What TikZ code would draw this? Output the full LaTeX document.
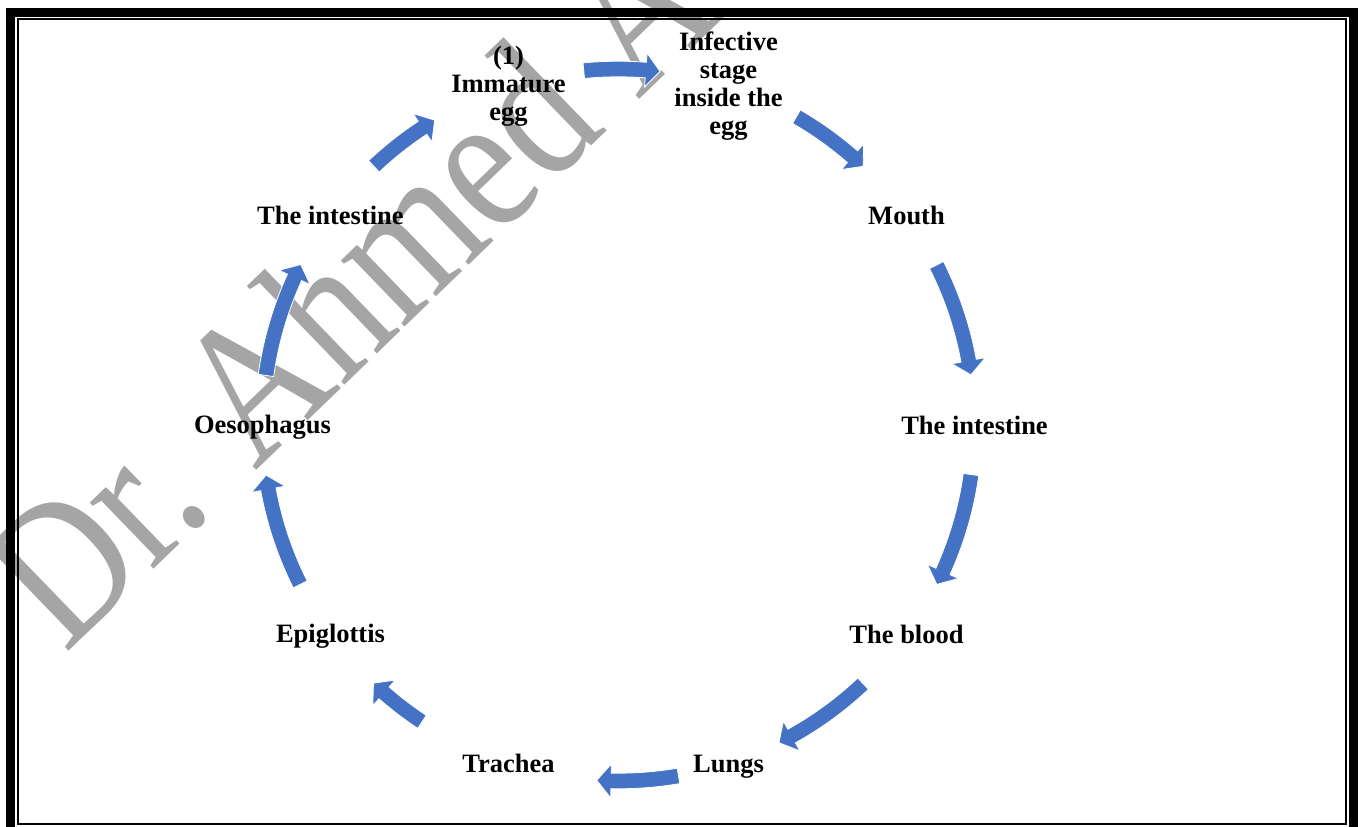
\documentclass[tikz,border=0pt]{standalone}
\usepackage{fontspec}
\setmainfont{Liberation Serif}
\definecolor{cycblue}{HTML}{4472C4}
\definecolor{wmgray}{HTML}{A5A5A5}
% #1 = start angle, #2 = tip angle (clockwise, #2 < #1)
\newcommand\CycArrow[2]{%
  \pgfmathsetmacro\hbang{#2+2.3}%
  \fill[arrowfill] (#1:348.2) arc[start angle=#1, end angle=\hbang, radius=348.2]
    -- (\hbang:339) -- (#2:356) -- (\hbang:373) -- (\hbang:363.8)
    arc[start angle=\hbang, end angle=#1, radius=363.8] -- cycle;
}
\begin{document}
\begin{tikzpicture}[x=1pt,y=1pt,
  lbl/.style={font=\bfseries\fontsize{26.5}{28}\selectfont, align=center, inner sep=0pt},
  arrowfill/.style={fill=cycblue, draw=white, line width=0.8pt},
  wm/.style={rotate=44, anchor=base west, inner sep=0pt, outer sep=0pt, text=wmgray,
             font=\fontsize{200}{200}\selectfont},
  thickframe/.style={draw=black, line width=9pt},
  thinframe/.style={draw=black, line width=2pt}]
\useasboundingbox (0,0) rectangle (1363,827);
\begin{scope}
\clip (0,0) rectangle (1363,827);
\fill[white] (0,0) rectangle (1363,827);
% watermark
\node[wm] (wmark) at (65.1,172) {\scalebox{0.835}[1]{Dr. Ahmed A}};
% cycle
\begin{scope}[shift={(618.5,402)}]
  \node[lbl] (egg)   at (108:356)  {(1)\\Immature\\egg};
  \node[lbl] (inf)   at (72:356)   {Infective\\stage\\inside the\\egg};
  \node[lbl] (mouth) at (36:356)   {Mouth};
  \node[lbl] (intR)  at (0:356)    {The intestine};
  \node[lbl] (blood) at (-36:356)  {The blood};
  \node[lbl] (lungs) at ([yshift=-3pt]-72:356)  {Lungs};
  \node[lbl] (trach) at (-108:356) {Trachea};
  \node[lbl] (epi)   at ([yshift=-2pt]-144:356) {Epiglottis};
  \node[lbl] (oes)   at ([yshift=-2pt]180:356)  {Oesophagus};
  \node[lbl] (intL)  at (144:356)  {The intestine};
  \CycArrow{95.6}{83.3}
  \CycArrow{60.0}{46.6}
  \CycArrow{26.7}{8.1}
  \CycArrow{-8.0}{-26.6}
  \CycArrow{-46.6}{-63.2}
  \CycArrow{-80.3}{-93.5}
  \CycArrow{-123.5}{-133.5}
  \CycArrow{-153.4}{-171.9}
  \CycArrow{172.0}{153.2}
  \CycArrow{133.4}{121.1}
\end{scope}
% frame
\draw[thickframe] (10.5,-5) rectangle (1353.3,814.6);
\draw[thinframe] (17.8,2.5) rectangle (1345.8,807.8);
\end{scope}
\end{tikzpicture}
\end{document}
